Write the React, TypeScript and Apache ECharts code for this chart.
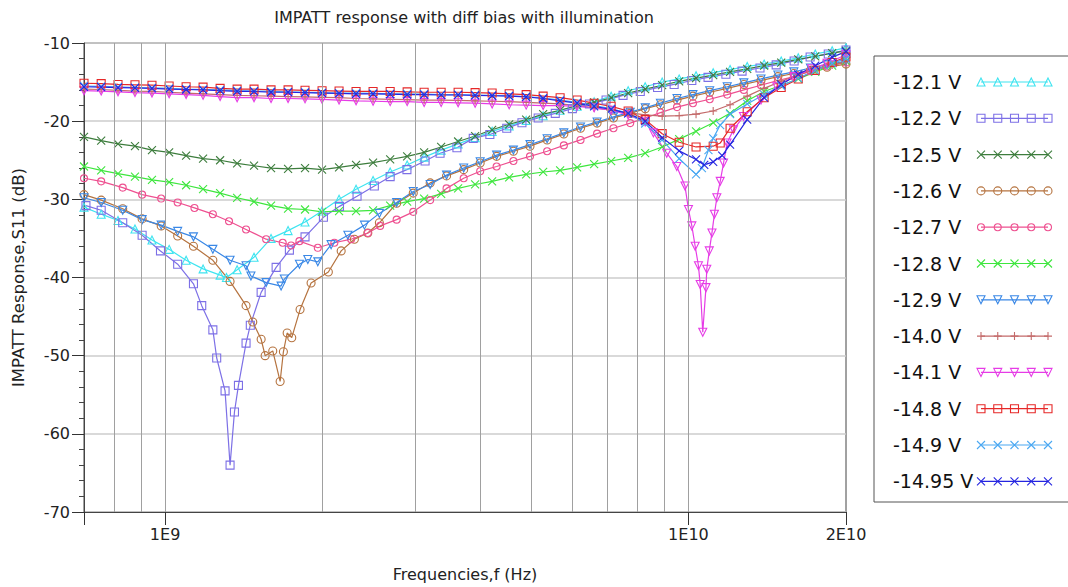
import React, { useEffect, useRef } from 'react';
import * as echarts from 'echarts';

const FONT = '"DejaVu Sans", sans-serif';

const titleText = 'IMPATT response with diff bias with illumination';
const xName = 'Frequencies,f (Hz)';
const yName = 'IMPATT Response,S11 (dB)';

const legendLabels = ['-12.1 V', '-12.2 V', '-12.5 V', '-12.6 V', '-12.7 V', '-12.8 V', '-12.9 V', '-14.0 V', '-14.1 V', '-14.8 V', '-14.9 V', '-14.95 V'];
const colors = ['#3ee4f0', '#7d70e6', '#3d7d3d', '#b5733f', '#ee5090', '#3ee63e', '#3a88e6', '#c46a6a', '#e63ce6', '#e62828', '#4aa8f2', '#2525e0'];

const SYM = {
  triUp: 'path://M5,0L10,9L0,9Z',
  triDown: 'path://M0,0L10,0L5,9Z',
  square: 'path://M0,0L10,0L10,10L0,10Z',
  circle: 'path://M0,5A5,5,0,1,1,10,5A5,5,0,1,1,0,5Z',
  cross: 'path://M0,0L10,10M10,0L0,10',
  plus: 'path://M5,0L5,10M0,5L10,5',
};
const symbols = [SYM.triUp, SYM.square, SYM.cross, SYM.circle, SYM.circle, SYM.cross, SYM.triDown, SYM.plus, SYM.triDown, SYM.square, SYM.cross, SYM.cross];

// vertical grid lines (GHz)
const vGridGHz = [0.8, 0.9, 1, 2, 3, 4, 5, 6, 7, 8, 9, 10];

// [frequency GHz, S11 dB]
const s12_1 = [[0.700,-31.0],[0.755,-31.9],[0.813,-32.7],[0.876,-33.8],[0.944,-35.2],[1.018,-36.4],[1.097,-37.8],[1.182,-38.9],[1.274,-39.7],[1.31,-40.0],[1.373,-39.0],[1.479,-37.4],[1.594,-35.0],[1.718,-34.0],[1.851,-32.9],[1.995,-31.5],[2.150,-30.0],[2.317,-28.7],[2.497,-27.6],[2.692,-26.5],[2.901,-25.6],[3.126,-24.6],[3.369,-23.7],[3.630,-22.9],[3.912,-22.1],[4.216,-21.3],[4.544,-20.6],[4.897,-19.9],[5.277,-19.3],[5.686,-18.6],[6.128,-18.1],[6.604,-17.5],[7.117,-16.8],[7.670,-16.1],[8.266,-15.6],[8.908,-15.0],[9.600,-14.6],[10.34,-14.2],[11.15,-13.8],[12.01,-13.4],[12.95,-13.0],[13.95,-12.7],[15.04,-12.3],[16.21,-11.9],[17.47,-11.4],[18.82,-11.0],[20.0,-10.6]];
const s12_2 = [[0.706,-30.8],[0.755,-31.4],[0.830,-33.0],[0.904,-34.6],[0.980,-36.6],[1.057,-38.3],[1.133,-40.8],[1.175,-43.6],[1.234,-46.7],[1.255,-50.3],[1.302,-54.5],[1.331,-64.0],[1.357,-57.2],[1.381,-53.8],[1.428,-48.4],[1.455,-46.1],[1.526,-41.9],[1.630,-38.7],[1.728,-36.5],[1.851,-34.8],[2.007,-32.3],[2.154,-30.9],[2.327,-29.6],[2.511,-28.3],[2.692,-27.1],[2.898,-26.2],[3.139,-25.1],[3.353,-24.1],[3.611,-23.4],[3.880,-22.2],[4.174,-21.7],[4.496,-20.9],[4.807,-20.2],[5.163,-19.6],[5.566,-19.0],[6.0,-18.4],[6.47,-17.8],[6.96,-17.3],[7.50,-16.7],[8.09,-16.2],[8.73,-15.7],[9.39,-15.3],[10.15,-14.8],[10.90,-14.4],[11.79,-14.0],[12.66,-13.6],[13.70,-13.2],[14.71,-12.8],[15.92,-12.3],[17.08,-11.8],[18.50,-11.4],[20.0,-10.9]];
const s12_5 = [[0.700,-22.0],[0.755,-22.5],[0.813,-22.9],[0.876,-23.2],[0.944,-23.7],[1.018,-24.0],[1.097,-24.4],[1.182,-24.8],[1.274,-25.0],[1.373,-25.4],[1.479,-25.7],[1.594,-26.0],[1.718,-26.1],[1.851,-26.0],[1.995,-26.2],[2.150,-25.9],[2.317,-25.6],[2.497,-25.3],[2.692,-24.9],[2.901,-24.5],[3.126,-24.0],[3.369,-23.3],[3.630,-22.6],[3.912,-21.9],[4.216,-21.1],[4.544,-20.4],[4.897,-19.8],[5.277,-19.1],[5.686,-18.6],[6.128,-18.0],[6.604,-17.6],[7.117,-17.0],[7.670,-16.4],[8.266,-15.9],[8.908,-15.4],[9.600,-14.9],[10.34,-14.5],[11.15,-14.1],[12.01,-13.7],[12.95,-13.3],[13.95,-12.9],[15.04,-12.5],[16.21,-12.1],[17.47,-11.7],[18.82,-11.3],[20.0,-11.0]];
const s12_6 = [[0.700,-29.4],[0.755,-30.1],[0.830,-31.2],[0.904,-32.5],[0.983,-33.4],[1.057,-34.7],[1.133,-36.0],[1.234,-37.8],[1.331,-40.5],[1.428,-43.6],[1.471,-45.7],[1.526,-47.9],[1.553,-50.0],[1.606,-49.4],[1.659,-53.3],[1.683,-49.5],[1.711,-47.1],[1.746,-47.7],[1.811,-44.1],[1.901,-40.7],[2.051,-39.3],[2.170,-36.6],[2.300,-35.1],[2.440,-34.3],[2.567,-33.0],[2.77,-30.5],[2.98,-29.2],[3.21,-27.9],[3.45,-27.0],[3.72,-26.2],[4.0,-25.35],[4.30,-24.5],[4.63,-23.85],[4.98,-23.2],[5.37,-22.4],[5.78,-21.65],[6.22,-20.9],[6.69,-20.25],[7.19,-19.6],[7.74,-19.0],[8.27,-18.4],[8.84,-17.9],[9.51,-17.3],[10.2,-16.8],[10.98,-16.3],[11.86,-15.8],[12.76,-15.3],[13.76,-14.8],[14.82,-14.3],[15.9,-13.9],[17.1,-13.5],[18.4,-13.1],[20.0,-12.7]];
const s12_7 = [[0.700,-27.3],[0.755,-27.7],[0.830,-28.5],[0.904,-29.4],[0.983,-29.9],[1.057,-30.4],[1.138,-31.1],[1.234,-31.9],[1.325,-32.8],[1.428,-33.85],[1.560,-35.1],[1.678,-35.55],[1.741,-35.9],[1.806,-35.35],[1.958,-36.2],[2.106,-35.55],[2.267,-35.1],[2.440,-34.3],[2.576,-33.4],[2.77,-32.6],[2.98,-31.6],[3.21,-30.1],[3.45,-28.6],[3.72,-27.3],[4.0,-26.4],[4.30,-25.8],[4.63,-25.1],[4.98,-24.5],[5.37,-23.85],[5.78,-23.1],[6.22,-22.4],[6.69,-21.6],[7.19,-20.9],[7.74,-20.25],[8.27,-19.6],[8.84,-18.9],[9.51,-18.2],[10.2,-17.7],[10.98,-17.2],[11.86,-16.6],[12.76,-16.0],[13.76,-15.4],[14.82,-14.8],[15.9,-14.3],[17.1,-13.6],[18.4,-13.0],[20.0,-12.5]];
const s12_8 = [[0.700,-25.8],[0.755,-26.3],[0.813,-26.7],[0.876,-27.1],[0.944,-27.5],[1.018,-27.8],[1.097,-28.2],[1.182,-28.7],[1.274,-29.2],[1.373,-29.8],[1.479,-30.3],[1.594,-30.8],[1.718,-31.2],[1.851,-31.3],[1.995,-31.6],[2.150,-31.5],[2.317,-31.5],[2.497,-31.4],[2.692,-30.8],[2.901,-30.3],[3.126,-29.9],[3.369,-29.3],[3.630,-28.6],[3.912,-28.1],[4.216,-27.7],[4.544,-27.2],[4.897,-26.8],[5.277,-26.5],[5.686,-26.3],[6.128,-25.9],[6.604,-25.5],[7.117,-25.1],[7.670,-24.7],[8.266,-24.1],[8.908,-23.3],[9.600,-22.3],[10.34,-21.3],[11.15,-20.2],[12.01,-19.0],[12.95,-17.4],[13.95,-16.2],[15.04,-15.4],[16.21,-14.6],[17.47,-13.7],[18.82,-12.9],[20.0,-12.3]];
const s12_9 = [[0.700,-29.8],[0.755,-30.4],[0.830,-31.4],[0.904,-32.6],[0.983,-33.3],[1.057,-34.1],[1.133,-34.8],[1.234,-36.4],[1.331,-37.8],[1.428,-38.5],[1.459,-39.8],[1.560,-40.65],[1.666,-41.1],[1.690,-40.2],[1.806,-38.3],[1.874,-37.7],[1.958,-38.0],[2.076,-35.8],[2.235,-34.6],[2.404,-33.3],[2.567,-31.8],[2.77,-30.4],[2.98,-29.0],[3.21,-28.1],[3.45,-26.9],[3.72,-26.0],[4.0,-25.2],[4.30,-24.35],[4.63,-23.7],[4.98,-23.0],[5.37,-22.25],[5.78,-21.5],[6.22,-20.75],[6.69,-20.1],[7.19,-19.45],[7.74,-18.85],[8.27,-18.3],[8.84,-17.7],[9.51,-17.1],[10.2,-16.6],[10.98,-16.1],[11.86,-15.6],[12.76,-15.1],[13.76,-14.6],[14.82,-14.1],[15.9,-13.7],[17.1,-13.2],[18.4,-12.8],[20.0,-12.3]];
const s14_0 = [[0.700,-15.9],[0.755,-15.95],[0.813,-16.05],[0.876,-16.15],[0.944,-16.2],[1.018,-16.3],[1.097,-16.4],[1.182,-16.5],[1.274,-16.6],[1.373,-16.7],[1.479,-16.75],[1.594,-16.8],[1.718,-16.85],[1.851,-16.9],[1.995,-16.95],[2.150,-17.0],[2.317,-17.1],[2.497,-17.15],[2.692,-17.2],[2.901,-17.25],[3.126,-17.3],[3.369,-17.3],[3.630,-17.35],[3.912,-17.4],[4.216,-17.45],[4.544,-17.5],[4.897,-17.6],[5.277,-17.7],[5.686,-17.8],[6.128,-18.0],[6.604,-18.3],[7.117,-18.6],[7.670,-18.9],[8.266,-19.2],[8.908,-19.35],[9.600,-19.3],[10.34,-19.1],[11.15,-18.7],[12.01,-17.9],[12.95,-16.8],[13.95,-15.8],[15.04,-14.9],[16.21,-14.1],[17.47,-13.4],[18.82,-12.8],[20.0,-12.4]];
const s14_1 = [[0.700,-16.1],[0.755,-16.15],[0.813,-16.25],[0.876,-16.35],[0.944,-16.4],[1.018,-16.5],[1.097,-16.6],[1.182,-16.7],[1.274,-16.85],[1.373,-17.0],[1.479,-17.0],[1.594,-17.1],[1.718,-17.1],[1.851,-17.15],[1.995,-17.2],[2.150,-17.3],[2.317,-17.4],[2.497,-17.45],[2.692,-17.5],[2.901,-17.5],[3.126,-17.6],[3.369,-17.6],[3.630,-17.65],[3.912,-17.7],[4.216,-17.8],[4.544,-17.9],[4.897,-17.95],[5.277,-18.0],[5.686,-18.0],[6.128,-18.1],[6.604,-18.3],[7.117,-18.6],[7.670,-19.2],[8.266,-20.1],[8.57,-21.5],[9.09,-24.1],[9.50,-25.8],[9.85,-28.3],[10.0,-31.3],[10.15,-33.4],[10.30,-36.0],[10.45,-38.5],[10.53,-40.9],[10.65,-47.0],[10.80,-41.3],[10.84,-38.95],[10.96,-36.6],[11.09,-34.3],[11.21,-31.9],[11.33,-29.8],[11.50,-27.7],[11.67,-25.35],[11.85,-22.8],[12.19,-21.1],[12.74,-19.4],[13.76,-17.3],[14.75,-15.6],[15.9,-14.3],[17.2,-13.3],[18.4,-12.6],[20.0,-11.5]];
const s14_8 = [[0.700,-15.15],[0.755,-15.2],[0.813,-15.3],[0.876,-15.35],[0.944,-15.4],[1.018,-15.5],[1.097,-15.6],[1.182,-15.65],[1.274,-15.8],[1.373,-15.9],[1.479,-15.9],[1.594,-16.0],[1.718,-16.0],[1.851,-16.05],[1.995,-16.1],[2.150,-16.15],[2.317,-16.2],[2.497,-16.2],[2.692,-16.2],[2.901,-16.25],[3.126,-16.3],[3.369,-16.3],[3.630,-16.3],[3.912,-16.35],[4.216,-16.4],[4.544,-16.5],[4.897,-16.6],[5.277,-16.8],[5.686,-17.0],[6.128,-17.3],[6.604,-17.7],[7.117,-18.1],[7.670,-18.7],[8.266,-19.8],[8.908,-21.6],[9.600,-22.7],[10.34,-23.3],[11.15,-23.2],[11.50,-22.8],[12.01,-20.9],[12.95,-18.8],[13.95,-17.0],[15.04,-15.7],[16.21,-14.6],[17.47,-13.5],[18.82,-12.5],[20.0,-11.8]];
const s14_9 = [[0.700,-15.5],[0.755,-15.55],[0.813,-15.6],[0.876,-15.7],[0.944,-15.75],[1.018,-15.8],[1.097,-15.9],[1.182,-15.95],[1.274,-16.0],[1.373,-16.1],[1.479,-16.15],[1.594,-16.2],[1.718,-16.25],[1.851,-16.3],[1.995,-16.35],[2.150,-16.4],[2.317,-16.4],[2.497,-16.45],[2.692,-16.5],[2.901,-16.5],[3.126,-16.55],[3.369,-16.6],[3.630,-16.6],[3.912,-16.65],[4.216,-16.7],[4.544,-16.75],[4.897,-16.85],[5.277,-17.05],[5.686,-17.3],[6.128,-17.6],[6.604,-18.0],[7.117,-18.4],[7.670,-19.0],[8.266,-20.3],[8.908,-22.4],[9.600,-24.8],[10.34,-26.8],[10.61,-26.0],[10.92,-23.7],[11.15,-22.2],[11.50,-20.5],[12.01,-19.1],[12.95,-17.8],[13.95,-16.6],[15.04,-15.5],[16.21,-14.5],[17.47,-13.5],[18.82,-12.6],[20.0,-12.0]];
const s14_95 = [[0.700,-15.6],[0.755,-15.65],[0.813,-15.7],[0.876,-15.75],[0.944,-15.8],[1.018,-15.9],[1.097,-15.95],[1.182,-16.0],[1.274,-16.1],[1.373,-16.2],[1.479,-16.2],[1.594,-16.3],[1.718,-16.3],[1.851,-16.35],[1.995,-16.4],[2.150,-16.45],[2.317,-16.5],[2.497,-16.5],[2.692,-16.55],[2.901,-16.6],[3.126,-16.6],[3.369,-16.65],[3.630,-16.65],[3.912,-16.7],[4.216,-16.75],[4.544,-16.8],[4.897,-16.9],[5.277,-17.1],[5.686,-17.4],[6.128,-17.7],[6.604,-18.1],[7.117,-18.5],[7.670,-19.0],[8.266,-20.0],[8.908,-22.1],[9.600,-23.8],[10.34,-24.9],[10.72,-25.6],[11.15,-25.2],[11.60,-24.4],[12.01,-23.0],[12.95,-19.8],[13.95,-17.0],[15.04,-15.3],[16.21,-14.0],[17.47,-12.9],[18.82,-11.8],[20.0,-11.1]];

const allSeries = [s12_1, s12_2, s12_5, s12_6, s12_7, s12_8, s12_9, s14_0, s14_1, s14_8, s14_9, s14_95];

function tickLabel(v: number): string {
  const e = Math.floor(Math.log10(v) + 1e-9);
  const m = Math.round((v / Math.pow(10, e)) * 100) / 100;
  if (Math.abs(m - 1) < 0.01 || Math.abs(m - 2) < 0.01) return `${Math.round(m)}E${e}`;
  return '';
}

export default function App() {
  const ref = useRef<HTMLDivElement>(null);
  useEffect(() => {
    if (!ref.current) return;
    const chart = echarts.init(ref.current, undefined, { renderer: 'svg' });
    const symSize = (i: number) => (i === 4 ? 7 : 8);
    const lineSeries: any[] = allSeries.map((d, i) => ({
      type: 'line',
      name: legendLabels[i],
      xAxisIndex: 0,
      yAxisIndex: 0,
      data: d.map(([g, v]) => [g * 1e9, v]),
      symbol: symbols[i],
      symbolSize: symSize(i),
      showSymbol: true,
      lineStyle: { color: colors[i], width: 1.2 },
      itemStyle: { color: 'transparent', borderColor: colors[i], borderWidth: 1.1 },
      emphasis: { disabled: true },
      z: 3,
    }));
    const legendSeries: any[] = legendLabels.map((_, i) => ({
      type: 'line',
      xAxisIndex: 1,
      yAxisIndex: 1,
      data: [0, 1, 2, 3, 4].map((k) => [k, i]),
      symbol: symbols[i],
      symbolSize: symSize(i),
      lineStyle: { color: colors[i], width: 1.2 },
      itemStyle: { color: 'transparent', borderColor: colors[i], borderWidth: 1.1 },
      emphasis: { disabled: true },
      silent: true,
    }));
    const gridSeries = {
      type: 'line',
      xAxisIndex: 0,
      yAxisIndex: 0,
      data: [],
      silent: true,
      z: 1,
      markLine: {
        silent: true,
        symbol: ['none', 'none'],
        label: { show: false },
        lineStyle: { color: '#a0a0a0', width: 1, type: 'solid' },
        emphasis: { disabled: true },
        data: vGridGHz.map((g) => ({ xAxis: g * 1e9 })),
      },
    };
    chart.setOption({
      animation: false,
      backgroundColor: '#ffffff',
      textStyle: { fontFamily: FONT },
      grid: [
        { left: 84, top: 43, width: 762, height: 470, show: true, borderColor: '#444', borderWidth: 1, backgroundColor: 'transparent' },
        { left: 981, top: 63.85, width: 67, height: 435.6 },
      ],
      xAxis: [
        {
          type: 'log',
          logBase: 10,
          gridIndex: 0,
          min: 7e8,
          max: 2e10,
          name: xName,
          nameLocation: 'middle',
          nameGap: 54,
          nameTextStyle: { fontSize: 16, color: '#222', fontFamily: FONT },
          axisLine: { show: true, lineStyle: { color: '#444', width: 1 } },
          axisTick: { show: true, inside: false, length: 13, lineStyle: { color: '#333' } },
          axisLabel: { show: true, fontSize: 16, color: '#222', margin: 14, fontFamily: FONT, formatter: tickLabel, showMinLabel: true, showMaxLabel: true },
          splitLine: { show: false },
          minorTick: { show: false },
        },
        { type: 'value', gridIndex: 1, min: 0, max: 4, show: false },
      ],
      yAxis: [
        {
          type: 'value',
          gridIndex: 0,
          min: -70,
          max: -10,
          interval: 10,
          name: yName,
          nameLocation: 'middle',
          nameGap: 57,
          nameTextStyle: { fontSize: 16.5, color: '#222', fontFamily: FONT },
          axisLine: { show: true, lineStyle: { color: '#444', width: 1 } },
          axisTick: { show: true, length: 12, lineStyle: { color: '#333' } },
          minorTick: { show: true, splitNumber: 5, length: 5, lineStyle: { color: '#444' } },
          axisLabel: { fontSize: 16, color: '#222', margin: 14, fontFamily: FONT },
          splitLine: { show: true, lineStyle: { color: '#cccccc', width: 1.5 } },
        },
        {
          type: 'category',
          gridIndex: 1,
          inverse: true,
          data: legendLabels,
          axisLine: { show: false },
          axisTick: { show: false },
          splitLine: { show: false },
          axisLabel: { align: 'left', margin: 88, fontSize: 19, color: '#111', fontFamily: FONT },
        },
      ],
      graphic: [
        {
          type: 'text',
          x: 464,
          y: 17,
          style: { text: titleText, fill: '#222', font: `16px ${FONT}`, align: 'center', verticalAlign: 'middle' },
        },
        {
          type: 'rect',
          shape: { x: 874, y: 56, width: 220, height: 446 },
          style: { fill: 'transparent', stroke: '#555', lineWidth: 1 },
          silent: true,
        },
      ],
      series: [gridSeries, ...lineSeries, ...legendSeries],
    });
    return () => chart.dispose();
  }, []);
  return <div ref={ref} style={{ position: 'fixed', left: 0, top: 0, width: 1068, height: 587, background: '#fff' }} />;
}
